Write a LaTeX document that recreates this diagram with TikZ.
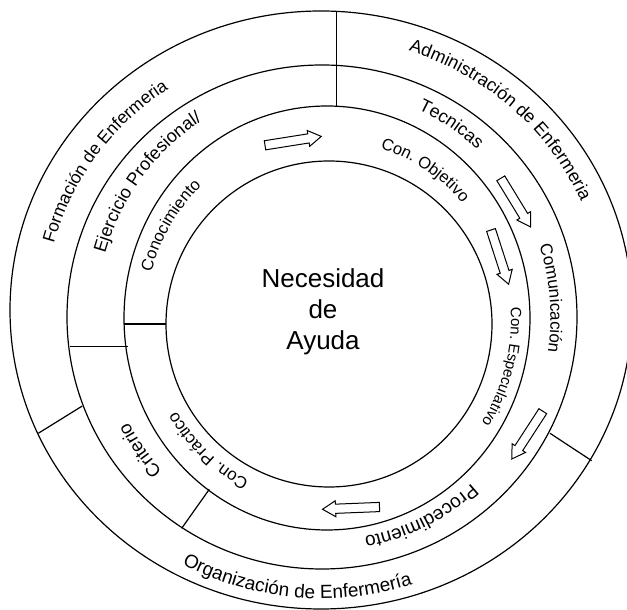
\documentclass[tikz,border=0pt]{standalone}
\usepackage{fontspec}
\setmainfont{Liberation Sans}
\usetikzlibrary{decorations.text}
\tikzset{
  ringline/.style={line width=1.2pt},
  divider/.style={line width=1.2pt},
  blk/.style={line width=1pt, fill=white, line join=miter},
  blockarr/.pic={\draw[blk] (0,-4.6) -- (44,-4.6) -- (44,-8) -- (57,0) -- (44,8) -- (44,4.6) -- (0,4.6) -- cycle;},
  maintext/.style={font=\fontsize{26}{30}\selectfont, inner sep=0pt, anchor=base}
}
% clockwise text: cx, cy, rx, ry, mid angle, font size, text
\newcommand{\cwtext}[7]{\path[decorate,decoration={text along path,text align=center,text={|\fontsize{#6}{#6}\selectfont|#7}}] (#1,#2) ++({#5+50}:{#3} and {#4}) arc[start angle={#5+50},end angle={#5-50},x radius=#3,y radius=#4];}
% counter-clockwise text
\newcommand{\ccwtext}[7]{\path[decorate,decoration={text along path,text align=center,text={|\fontsize{#6}{#6}\selectfont|#7}}] (#1,#2) ++({#5-50}:{#3} and {#4}) arc[start angle={#5-50},end angle={#5+50},x radius=#3,y radius=#4];}
\begin{document}
\begin{tikzpicture}[x=1pt,y=1pt]
\useasboundingbox (0,0) rectangle (627,610);
% circles
\draw[ringline] (321,300) ellipse [x radius=311, y radius=299];
\draw[ringline] (322,293) ellipse [x radius=255, y radius=252];
\draw[ringline] (327,292) ellipse [x radius=203, y radius=212];
\draw[ringline] (329,286) circle [radius=163];
% dividers
\coordinate (v1) at (336.7,599.3); \coordinate (v2) at (336.7,504);
\coordinate (h1) at (70,263.3);    \coordinate (h2) at (128,263.3);
\coordinate (k1) at (124,286);     \coordinate (k2) at (166,286);
\coordinate (l1) at (38.3,176.7);  \coordinate (l2) at (82.3,204);
\coordinate (m1) at (181.7,81.7);  \coordinate (m2) at (209.3,120.7);
\coordinate (n1) at (550,176.7);   \coordinate (n2) at (591.7,149.3);
\draw[divider] (v1) -- (v2);
\draw[divider] (h1) -- (h2);
\draw[divider] (k1) -- (k2);
\draw[divider] (l1) -- (l2);
\draw[divider] (m1) -- (m2);
\draw[divider] (n1) -- (n2);
% block arrows
\pic[rotate=9] at (265,464.7) {blockarr};
\pic[rotate=-58.6] at (500.8,431.7) {blockarr};
\pic[rotate=-72] at (491,380) {blockarr};
\pic[rotate=-123] at (542.8,198.8) {blockarr};
\pic[rotate=182.3] at (379.5,103) {blockarr};
% centre text
\node[maintext] (nec1) at (323,322) {Necesidad};
\node[maintext] (nec2) at (323,291) {de};
\node[maintext] (nec3) at (323,260) {Ayuda};
% ring A
\cwtext{321.5}{296.5}{277}{269.5}{144.6}{17.5}{Formación de Enfermeria}
\cwtext{321.5}{296.5}{284}{276}{47.7}{18}{Administración de Enfermeria}
\ccwtext{321.5}{296.5}{293}{285}{264.8}{19}{Organización de Enfermería}
% ring B
\cwtext{324.5}{292.5}{228}{233}{143}{18}{Ejercicio Profesional/}
\cwtext{324.5}{292.5}{224}{229}{56.5}{18}{Tecnicas}
\cwtext{324.5}{292.5}{226}{231}{4.8}{17}{Comunicación}
\cwtext{324.5}{292.5}{220}{223}{-64}{19}{Procedimiento}
\cwtext{324.5}{292.5}{221}{226}{215.5}{18.5}{Criterio}
% ring C
\cwtext{328}{289}{183}{187}{149}{16.5}{Conocimiento}
\cwtext{328}{289}{177}{181}{57}{16.5}{Con. Objetivo}
\cwtext{328}{289}{183}{187}{-14.6}{15}{Con. Especulativo}
\cwtext{328}{289}{175}{179}{227}{17}{Con. Práctico}
\end{tikzpicture}
\end{document}
